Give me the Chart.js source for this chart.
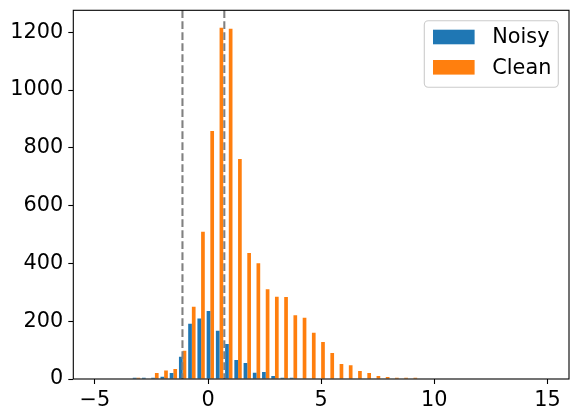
<!DOCTYPE html>
<html>
<head>
<meta charset="utf-8">
<script src="https://cdn.jsdelivr.net/npm/chart.js@4"></script>
<style>
  body { margin: 0; background: #ffffff; }
  canvas { display: block; }
</style>
</head>
<body>
<canvas id="hist" width="578" height="419"></canvas>
<script>
// 49 bins between -5 and 15, centres of each bin
const binCenters = [-4.796, -4.388, -3.980, -3.571, -3.163, -2.755, -2.347, -1.939, -1.531, -1.122,
                    -0.714, -0.306, 0.102, 0.510, 0.918, 1.327, 1.735, 2.143, 2.551, 2.959,
                    3.367, 3.776, 4.184, 4.592, 5.000, 5.408, 5.816, 6.224, 6.633, 7.041,
                    7.449, 7.857, 8.265, 8.673, 9.082, 9.490, 9.898, 10.306, 10.714, 11.122,
                    11.531, 11.939, 12.347, 12.755, 13.163, 13.571, 13.980, 14.388, 14.796];

const noisy = [0, 0, 0, 0, 4, 4, 4, 8, 21, 77,
               191, 209, 235, 167, 121, 66, 55, 22, 24, 10,
               4, 4, 0, 0, 0, 0, 0, 0, 0, 0,
               0, 0, 0, 0, 0, 0, 0, 0, 0, 0,
               0, 0, 0, 0, 0, 0, 0, 0, 0];

const clean = [0, 0, 0, 0, 4, 0, 21, 29, 35, 98,
               250, 510, 858, 1216, 1212, 761, 436, 401, 311, 285,
               284, 221, 212, 160, 128, 90, 52, 48, 28, 21,
               10, 7, 4, 4, 4, 0, 0, 0, 0, 0,
               0, 0, 0, 0, 0, 0, 0, 0, 0];

const seriesNames = ["Noisy", "Clean"];
const seriesColors = ["#1f77b4", "#ff7f0e"];
const cutoffs = [-1.13, 0.72];
const xTicks = [-5, 0, 5, 10, 15];
const yTicks = [0, 200, 400, 600, 800, 1000, 1200];

const fontSize = 20.8;
Chart.defaults.font.family = "'DejaVu Sans', sans-serif";
Chart.defaults.font.size = fontSize;
Chart.defaults.color = "#000000";

function toPoints(values) {
    return binCenters.map((x, i) => ({ x: x, y: values[i] }));
}

function tickText(v) {
    return v < 0 ? "\u2212" + Math.abs(v) : String(v);
}

// dashed vertical lines
const cutoffLines = {
    id: "cutoffLines",
    afterDatasetsDraw(chart) {
        const ctx = chart.ctx;
        const area = chart.chartArea;
        const xs = chart.scales.x;
        ctx.save();
        ctx.strokeStyle = "#808080";
        ctx.lineWidth = 2.08;
        ctx.setLineDash([7.7, 3.3]);
        cutoffs.forEach(v => {
            const px = xs.getPixelForValue(v);
            ctx.beginPath();
            ctx.moveTo(px, area.top);
            ctx.lineTo(px, area.bottom);
            ctx.stroke();
        });
        ctx.restore();
    }
};

// axes frame and legend box
const frameAndLegend = {
    id: "frameAndLegend",
    afterDraw(chart) {
        const ctx = chart.ctx;
        const area = chart.chartArea;
        ctx.save();
        ctx.strokeStyle = "#000000";
        ctx.lineWidth = 1.1;
        ctx.strokeRect(area.left, area.top, area.right - area.left, area.bottom - area.top);

        // legend
        const boxW = 134, boxH = 66.6;
        const bx = area.right - 10.7 - boxW;
        const by = area.top + 10.4;
        const r = 4;
        ctx.beginPath();
        ctx.moveTo(bx + r, by);
        ctx.arcTo(bx + boxW, by, bx + boxW, by + boxH, r);
        ctx.arcTo(bx + boxW, by + boxH, bx, by + boxH, r);
        ctx.arcTo(bx, by + boxH, bx, by, r);
        ctx.arcTo(bx, by, bx + boxW, by, r);
        ctx.closePath();
        ctx.fillStyle = "rgba(255,255,255,0.8)";
        ctx.fill();
        ctx.strokeStyle = "#cccccc";
        ctx.lineWidth = 1.1;
        ctx.stroke();

        ctx.font = fontSize + "px 'DejaVu Sans'";
        ctx.textBaseline = "middle";
        ctx.textAlign = "left";
        seriesNames.forEach((name, i) => {
            const cy = by + 16.3 + i * 30.3;
            ctx.fillStyle = seriesColors[i];
            ctx.fillRect(bx + 8.7, cy - 7.3, 41.6, 14.6);
            ctx.fillStyle = "#000000";
            ctx.fillText(name, bx + 68, cy + 1);
        });
        ctx.restore();
    }
};

const ctx = document.getElementById("hist").getContext("2d");
const chart = new Chart(ctx, {
    type: "bar",
    data: {
        datasets: seriesNames.map((name, i) => ({
            label: name,
            data: toPoints(i === 0 ? noisy : clean),
            backgroundColor: seriesColors[i],
            borderWidth: 0,
            categoryPercentage: 0.8,
            barPercentage: 1.0
        }))
    },
    options: {
        responsive: false,
        animation: false,
        devicePixelRatio: 1,
        layout: { padding: { top: 10.3, right: 9, left: 0, bottom: 0 } },
        plugins: {
            legend: { display: false },
            tooltip: { enabled: false }
        },
        scales: {
            x: {
                type: "linear",
                offset: false,
                min: -5.955,
                max: 15.955,
                afterBuildTicks: s => { s.ticks = xTicks.map(v => ({ value: v })); },
                afterFit: s => { s.height = 40; s.paddingLeft = 0; s.paddingRight = 0; },
                grid: {
                    offset: false,
                    drawOnChartArea: false,
                    drawTicks: true,
                    tickLength: 5,
                    tickWidth: 1.1,
                    tickColor: "#000000"
                },
                border: { display: false },
                ticks: { padding: 4, maxRotation: 0, autoSkip: false, callback: v => tickText(v) }
            },
            y: {
                type: "linear",
                min: 0,
                max: 1276,
                afterBuildTicks: s => { s.ticks = yTicks.map(v => ({ value: v })); },
                afterFit: s => { s.width = 73.3; s.paddingTop = 0; s.paddingBottom = 0; },
                grid: {
                    drawOnChartArea: false,
                    drawTicks: true,
                    tickLength: 5,
                    tickWidth: 1.1,
                    tickColor: "#000000"
                },
                border: { display: false },
                ticks: { padding: 5, autoSkip: false, callback: v => tickText(v) }
            }
        }
    },
    plugins: [cutoffLines, frameAndLegend]
});
</script>
</body>
</html>
